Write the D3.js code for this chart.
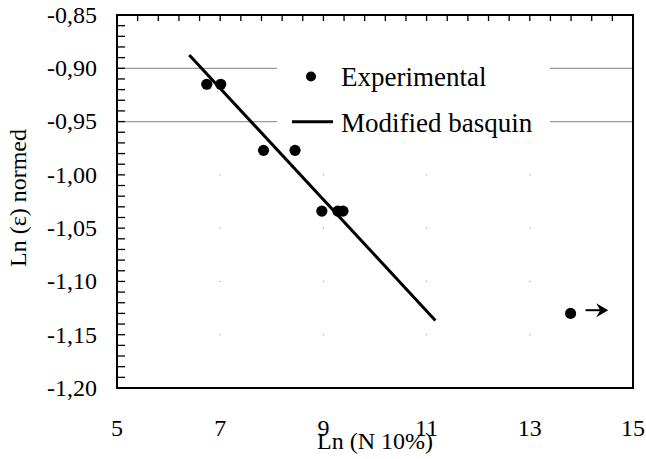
<!DOCTYPE html>
<meta charset="utf-8">
<script src="https://d3js.org/d3.v7.min.js"></script>
<style>
  body { margin: 0; background: #fff; }
  text { font-family: "Liberation Serif", "Times New Roman", serif; fill: #000; }
</style>
<div id="chart"></div>
<script>
// data
const expX = [6.74, 7.01, 7.84, 8.45, 8.97, 9.28, 9.38, 13.79];
const expY = [-0.915, -0.915, -0.977, -0.977, -1.034, -1.034, -1.034, -1.130];
const fitX = [6.40, 11.17];
const fitY = [-0.8875, -1.1366];
const arrowX = [14.08, 14.52];
const arrowY = -1.127;
const xTicks = [5, 7, 9, 11, 13, 15];
const yTicks = [-0.85, -0.90, -0.95, -1.00, -1.05, -1.10, -1.15, -1.20];
const legendNames = ["Experimental", "Modified basquin"];

const W = 646, H = 459;
const margin = {top: 15, right: 13, bottom: 71, left: 117};
const width = W - margin.left - margin.right,
      height = H - margin.top - margin.bottom;

const svg = d3.select("#chart").append("svg")
    .attr("width", W).attr("height", H);
const g = svg.append("g")
    .attr("transform", `translate(${margin.left},${margin.top})`);

const x = d3.scaleLinear().domain([5, 15]).range([0, width]);
const y = d3.scaleLinear().domain([-1.20, -0.85]).range([height, 0]);

// gray gridlines at -0,90 and -0,95 (the legend box covers their middle)
g.selectAll(".grid")
  .data([-0.90, -0.95])
  .join("line")
    .attr("x1", 0).attr("x2", width)
    .attr("y1", d => y(d)).attr("y2", d => y(d))
    .attr("stroke", "#9a9a9a").attr("stroke-width", 1.3);

// faint grid dots lower down
const dotRows = yTicks.filter(v => v <= -0.999 && v > -1.19);
const dotCols = xTicks.filter(v => v > 5 && v < 15);
dotRows.forEach(r => dotCols.forEach(c => {
  g.append("rect")
    .attr("x", x(c) - 0.6).attr("y", y(r) - 0.6)
    .attr("width", 1.2).attr("height", 1.2)
    .attr("fill", "#aaa");
}));

// legend box (white) covering the gridlines
g.append("rect")
  .attr("x", 277 - margin.left).attr("y", 50 - margin.top)
  .attr("width", 273).attr("height", 95)
  .attr("fill", "#fff");

// fit line
const line = d3.line().x(d => x(d[0])).y(d => y(d[1]));
g.append("path")
  .datum(d3.zip(fitX, fitY))
  .attr("d", line)
  .attr("fill", "none").attr("stroke", "#000").attr("stroke-width", 3);

// experimental points
g.selectAll(".pt")
  .data(d3.zip(expX, expY))
  .join("circle")
    .attr("cx", d => x(d[0])).attr("cy", d => y(d[1]))
    .attr("r", 5.6).attr("fill", "#000");

// arrow for runout point
const ax0 = x(arrowX[0]), ax1 = x(arrowX[1]), ay = y(arrowY);
g.append("line")
  .attr("x1", ax0).attr("x2", ax1 - 4)
  .attr("y1", ay).attr("y2", ay)
  .attr("stroke", "#000").attr("stroke-width", 2);
g.append("path")
  .attr("d", `M${ax1},${ay} L${ax1 - 12},${ay - 7} L${ax1 - 8},${ay} L${ax1 - 12},${ay + 7} Z`)
  .attr("fill", "#000");

// minor ticks: left axis every 0.01, top axis every 0.4
const leftMinor = d3.range(0, 36).map(i => -0.85 - i * 0.01);
g.selectAll(".lt")
  .data(leftMinor)
  .join("line")
    .attr("x1", 0).attr("x2", 8)
    .attr("y1", d => y(d)).attr("y2", d => y(d))
    .attr("stroke", "#000").attr("stroke-width", 1.3);
const topMinor = d3.range(1, 25).map(i => 5 + i * 0.4);
g.selectAll(".tt")
  .data(topMinor)
  .join("line")
    .attr("x1", d => x(d)).attr("x2", d => x(d))
    .attr("y1", 0).attr("y2", 6)
    .attr("stroke", "#000").attr("stroke-width", 1.3);

// frame
g.append("rect")
  .attr("x", 0).attr("y", 0).attr("width", width).attr("height", height)
  .attr("fill", "none").attr("stroke", "#000").attr("stroke-width", 2);

// tick labels
const fmt = v => d3.format(".2f")(v).replace(".", ",").replace("−", "-");
g.selectAll(".yl")
  .data(yTicks)
  .join("text")
    .attr("x", -20).attr("y", d => y(d))
    .attr("dy", "0.33em")
    .attr("text-anchor", "end")
    .style("font-size", "24px")
    .text(fmt);
g.selectAll(".xl")
  .data(xTicks)
  .join("text")
    .attr("x", d => x(d)).attr("y", 436 - margin.top)
    .attr("text-anchor", "middle")
    .style("font-size", "24px")
    .text(d => d);

// axis titles
svg.append("text")
  .attr("x", 375).attr("y", 449)
  .attr("text-anchor", "middle")
  .style("font-size", "24px")
  .text("Ln (N 10%)");
svg.append("text")
  .attr("transform", "translate(26,198) rotate(-90)")
  .attr("text-anchor", "middle")
  .style("font-size", "24px")
  .text("Ln (ε) normed");

// legend
svg.append("circle").attr("cx", 311).attr("cy", 76.5).attr("r", 5).attr("fill", "#000");
svg.append("line")
  .attr("x1", 292).attr("x2", 333).attr("y1", 121.7).attr("y2", 121.7)
  .attr("stroke", "#000").attr("stroke-width", 3);
svg.selectAll(".lg")
  .data(legendNames)
  .join("text")
    .attr("x", 341).attr("y", (d, i) => 86 + i * 45.5)
    .style("font-size", "27px")
    .text(d => d);
</script>
